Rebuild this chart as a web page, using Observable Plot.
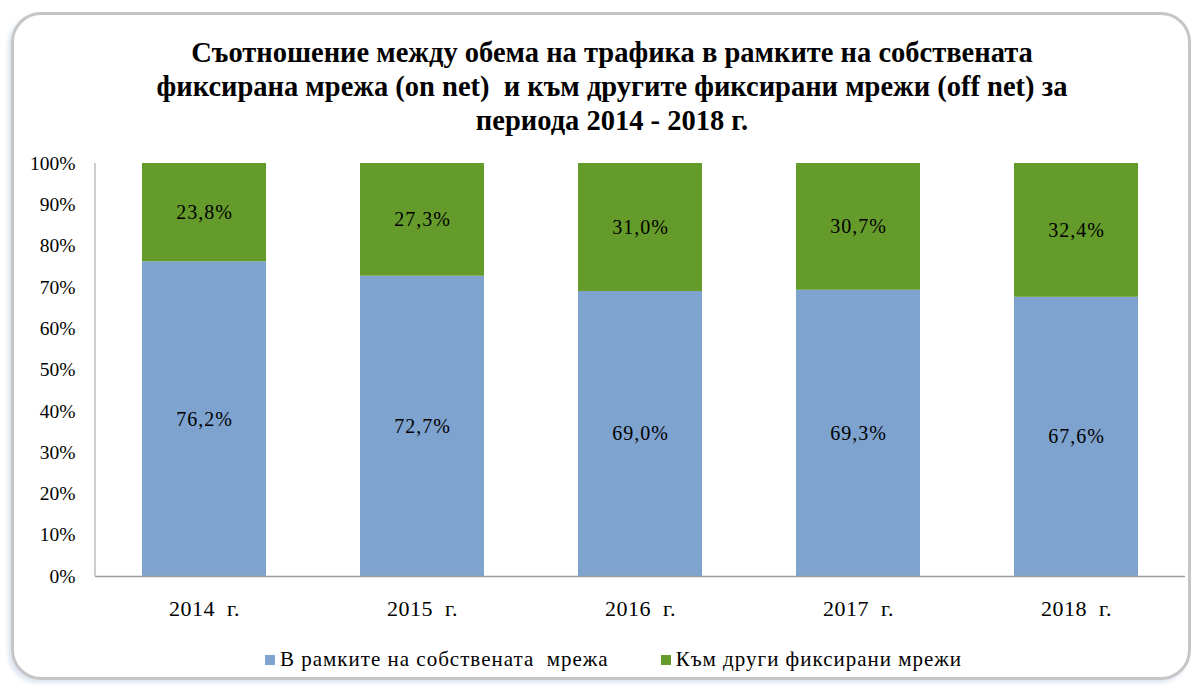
<!DOCTYPE html>
<html>
<head>
<meta charset="utf-8">
<script src="https://cdn.jsdelivr.net/npm/d3@7"></script>
<script src="https://cdn.jsdelivr.net/npm/@observablehq/plot@0.6"></script>
<style>
  html, body { margin: 0; padding: 0; background: #fff; }
  body { width: 1200px; height: 686px; position: relative; overflow: hidden; font-family: "Liberation Serif", serif; }
  #frame { position: absolute; left: 11px; top: 12px; width: 1180px; height: 668px; border: 3px solid #c6c6c6; border-radius: 30px; box-shadow: -3px 3px 4px #dce5f1; box-sizing: border-box; }
  #title { position: absolute; left: 12px; top: 36px; width: 1200px; text-align: center; font: bold 28.5px/34px "Liberation Serif", serif; color: #000; }
  #chart { position: absolute; left: 0; top: 140px; }
  #legend { position: absolute; left: 265px; top: 647px; display: flex; font: 21px "Liberation Serif", serif; letter-spacing: 1px; color: #000; }
  .item { display: flex; align-items: center; margin-right: 52px; }
  .sw { width: 10px; height: 10px; margin-right: 5px; display: inline-block; }
</style>
</head>
<body>
<div id="frame"></div>
<div id="title">Съотношение между обема на трафика в рамките на собствената<br>фиксирана мрежа (on net)&nbsp; и към другите фиксирани мрежи (off net) за<br>периода 2014 - 2018 г.</div>
<div id="chart"></div>
<div id="legend"></div>
<script>
const years = ["2014  г.", "2015  г.", "2016  г.", "2017  г.", "2018  г."];
const seriesNames = ["В рамките на собствената  мрежа", "Към други фиксирани мрежи"];
const onNet = [76.2, 72.7, 69.0, 69.3, 67.6];
const offNet = [23.8, 27.3, 31.0, 30.7, 32.4];
const colors = ["#7ea3cf", "#659b2b"];
const yTicks = [0, 0.1, 0.2, 0.3, 0.4, 0.5, 0.6, 0.7, 0.8, 0.9, 1.0];

const data = [];
years.forEach((y, i) => data.push({year: y, series: seriesNames[0], value: onNet[i] / 100, label: onNet[i].toFixed(1).replace(".", ",") + "%"}));
years.forEach((y, i) => data.push({year: y, series: seriesNames[1], value: offNet[i] / 100, label: offNet[i].toFixed(1).replace(".", ",") + "%"}));

const chart = Plot.plot({
  width: 1200,
  height: 500,
  marginLeft: 95,
  marginRight: 15,
  marginTop: 23,
  marginBottom: 64,
  style: {fontFamily: "'Liberation Serif', serif", background: "transparent", overflow: "visible", color: "#000"},
  x: {domain: years, paddingInner: 0.43, paddingOuter: 0.215, label: null},
  y: {domain: [0, 1], label: null},
  color: {domain: seriesNames, range: colors},
  marks: [
    Plot.barY(data, {x: "year", y: "value", fill: "series", order: seriesNames}),
    Plot.text(data, Plot.stackY({x: "year", y: "value", z: "series", order: seriesNames, text: "label", fontSize: 20, fill: "#000", style: "letter-spacing:1px"})),
    Plot.axisY({ticks: yTicks, tickFormat: d => Math.round(d * 100) + "%", tickSize: 0, tickPadding: 20, fontSize: 19.5, label: null}),
    Plot.axisX({tickSize: 0, tickPadding: 24, fontSize: 22, label: null}),
    Plot.ruleY([0], {stroke: "#9c9c9c", strokeWidth: 1.5})
  ]
});
document.getElementById("chart").appendChild(chart);

// category labels get slightly wider spacing, as in the reference
d3.select(chart).selectAll("g[aria-label='x-axis tick label'] text").style("letter-spacing", "0.5px").style("white-space", "pre");
d3.select(chart).selectAll("g[aria-label='text'] text").style("letter-spacing", "1px");

// left axis line positioned with the library's y scale
const ys = chart.scale("y");
d3.select(chart).append("line")
  .attr("x1", 95).attr("x2", 95)
  .attr("y1", ys.apply(0)).attr("y2", ys.apply(1))
  .attr("stroke", "#bdbdbd").attr("stroke-width", 1.5);

const legend = document.getElementById("legend");
seriesNames.forEach((n, i) => {
  const it = document.createElement("div");
  it.className = "item";
  const sw = document.createElement("span");
  sw.className = "sw";
  sw.style.background = colors[i];
  const t = document.createElement("span");
  t.textContent = n;
  t.style.whiteSpace = "pre";
  it.appendChild(sw); it.appendChild(t);
  legend.appendChild(it);
});
</script>
</body>
</html>
